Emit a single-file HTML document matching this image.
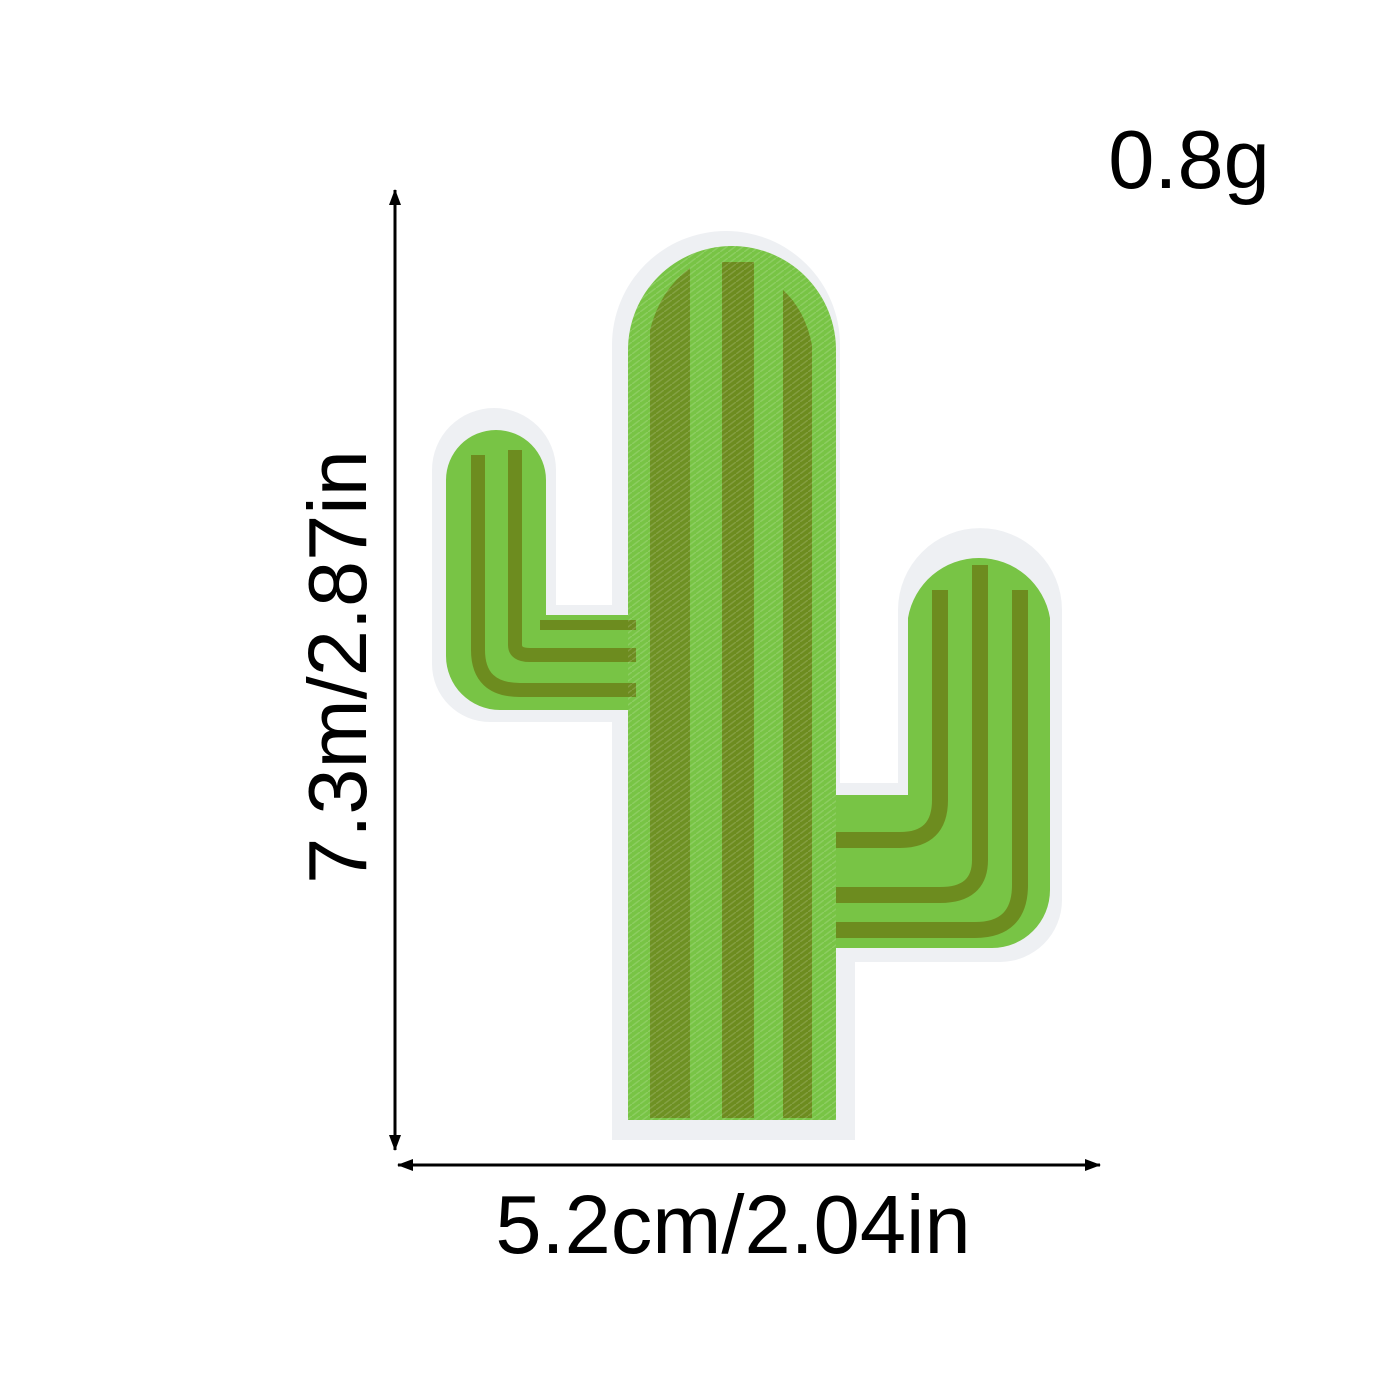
<!DOCTYPE html>
<html><head><meta charset="utf-8"><style>
html,body{margin:0;padding:0;background:#fff;}
svg{display:block;}
text{font-family:"Liberation Sans",sans-serif;fill:#000;}
</style></head><body>
<svg width="1400" height="1400" viewBox="0 0 1400 1400">
<defs>
<marker id="ah" markerWidth="16" markerHeight="14" refX="15" refY="7" orient="auto-start-reverse" markerUnits="userSpaceOnUse">
<path d="M0,1 L16,7 L0,13 Z" fill="#000"/>
</marker>
<pattern id="stitch" width="8" height="6" patternUnits="userSpaceOnUse">
<path d="M0,6 L8,0" stroke="rgba(255,255,255,0.15)" stroke-width="1.5"/>
</pattern>
</defs>
<g>
<line x1="395" y1="1150" x2="395" y2="190" stroke="#000" stroke-width="3" marker-end="url(#ah)" marker-start="url(#ah)"/>
</g>
<g>
<line x1="398" y1="1165" x2="1100" y2="1165" stroke="#000" stroke-width="3" marker-end="url(#ah)" marker-start="url(#ah)"/>
</g>
<text x="733" y="1253" font-size="83" text-anchor="middle">5.2cm/2.04in</text>
<text transform="translate(366,667) rotate(-90)" font-size="83" text-anchor="middle">7.3m/2.87in</text>
<text x="1189" y="188" font-size="83" text-anchor="middle">0.8g</text>

<g>
<g fill="#eef0f3">
<path d="M612,1140 L612,345 A114,114 0 0 1 840,345 L840,783 L898,783 L898,610 A82,82 0 0 1 1062,610 L1062,900 A62,62 0 0 1 1000,962 L855,962 L855,1140 Z"/>
<path d="M432,470 A62,62 0 0 1 556,470 L556,605 L632,605 L632,722 L490,722 A58,58 0 0 1 432,664 Z"/>
</g>
<g fill="#78c445">
<path d="M628,1120 L628,350 A104,104 0 0 1 836,350 L836,1120 Z"/>
</g>
<g fill="#78c445">
<path d="M446,480 A50,50 0 0 1 546,480 L546,615 L636,615 L636,710 L500,710 A54,54 0 0 1 446,656 Z"/>
</g>
<g fill="#78c445">
<path d="M832,795 L908,795 L908,618 A72,72 0 0 1 1050,618 L1050,890 A58,58 0 0 1 992,948 L832,948 Z"/>
</g>
<g fill="#6d8c1f">
<path d="M650,1118 L650,330 Q660,290 690,268 L690,1118 Z" opacity="0.9"/>
<rect x="722" y="262" width="32" height="856"/>
<path d="M783,1118 L783,290 Q805,310 812,345 L812,1118 Z"/>
</g>
<g fill="none" stroke="#6d8c1f" stroke-width="14">
<path d="M478,455 L478,650 Q478,690 520,690 L636,690"/>
<path d="M515,450 L515,645 Q515,655 530,655 L636,655"/>
<path d="M540,625 L636,625" stroke-width="10"/>
</g>
<g fill="none" stroke="#6d8c1f" stroke-width="16">
<path d="M940,590 L940,800 Q940,840 900,840 L836,840"/>
<path d="M980,565 L980,860 Q980,895 940,895 L836,895"/>
<path d="M1020,590 L1020,885 Q1020,930 975,930 L836,930"/>
</g>
<g fill="url(#stitch)">
<path d="M628,1120 L628,350 A104,104 0 0 1 836,350 L836,1120 Z"/>
</g>
</g>
</svg>
</body></html>
